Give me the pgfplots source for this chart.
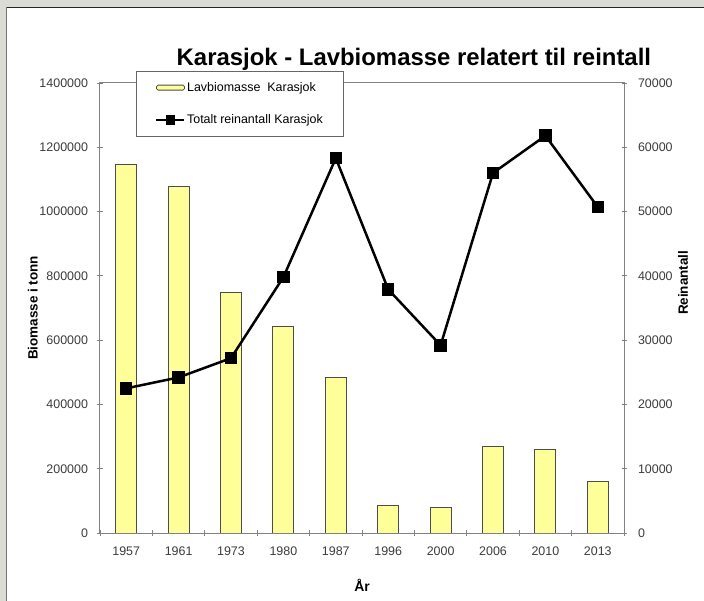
\documentclass[border=0pt]{standalone}
\usepackage{fontspec}
\setmainfont{Liberation Sans}
\usepackage{pgfplots}
\pgfplotsset{compat=1.18}
\definecolor{barcol}{RGB}{255,255,153}
\definecolor{bgcol}{RGB}{220,220,215}
\definecolor{axcol}{RGB}{130,130,130}
\definecolor{txtcol}{RGB}{60,60,60}
\begin{document}
\begin{tikzpicture}
\useasboundingbox (0bp,0bp) rectangle (704bp,601bp);
\fill[bgcol] (0bp,0bp) rectangle (704bp,601bp);
\fill[white] (7bp,0bp) rectangle (704bp,593bp);
\draw[black!85, line width=1bp] (6bp,593.5bp) -- (704bp,593.5bp);
\draw[black!55, line width=1.5bp] (6.5bp,0bp) -- (6.5bp,594bp);
\node[anchor=base west, font=\fontsize{24}{28}\selectfont\bfseries, inner sep=0pt] at (176.5bp,535bp) {Karasjok - Lavbiomasse relatert til reintall};
\begin{axis}[
  at={(100bp,68bp)}, anchor=south west,
  width=524bp, height=450bp, scale only axis,
  xmin=-0.5, xmax=9.5, ymin=0, ymax=1400000,
  axis line style={axcol, line width=1bp},
  xtick={0,...,9},
  xticklabels={1957,1961,1973,1980,1987,1996,2000,2006,2010,2013},
  minor xtick={-0.5,0.5,...,9.5},
  major x tick style={draw=none},
  minor x tick style={axcol, line width=0.8bp},
  minor tick length=5bp,
  ytick={0,200000,...,1400000},
  ytick style={axcol, line width=0.8bp},
  major tick length=5bp,
  tick align=center,
  xtick pos=bottom, ytick pos=left,
  scaled y ticks=false,
  /pgf/number format/assume math mode=true,
  yticklabel style={/pgf/number format/fixed, /pgf/number format/1000 sep={}, font=\fontsize{12.5}{15}\selectfont, text=txtcol, xshift=-6bp},
  xticklabel style={font=\fontsize{12.5}{15}\selectfont, text=txtcol, yshift=-8bp},
  ylabel={Biomasse i tonn},
  ylabel style={at={(axis description cs:-0.128,0.5)}, anchor=center, font=\fontsize{13.5}{16}\selectfont\bfseries},
  xlabel={År},
  xlabel style={at={(axis description cs:0.5,-0.116)}, anchor=center, font=\fontsize{14}{16}\selectfont\bfseries},
]
\addplot[ybar, bar width=21bp, fill=barcol, draw=black!70, line width=0.9bp]
  coordinates {(0,1147000) (1,1077000) (2,748000) (3,644000) (4,485000)
               (5,86000) (6,79000) (7,268000) (8,259000) (9,159000)};
\end{axis}
\begin{axis}[
  at={(100bp,68bp)}, anchor=south west,
  width=524bp, height=450bp, scale only axis,
  xmin=-0.5, xmax=9.5, ymin=0, ymax=70000,
  axis x line=none,
  axis y line*=right,
  axis line style={axcol, line width=1bp},
  ytick={0,10000,...,70000},
  ytick style={axcol, line width=0.8bp},
  major tick length=5bp,
  tick align=center,
  scaled y ticks=false,
  /pgf/number format/assume math mode=true,
  yticklabel style={/pgf/number format/fixed, /pgf/number format/1000 sep={}, font=\fontsize{12.5}{15}\selectfont, text=txtcol, xshift=8bp},
  ylabel={Reinantall},
  ylabel style={at={(axis description cs:1.1126,0.556)}, anchor=center, font=\fontsize{13.5}{16}\selectfont\bfseries},
  legend style={at={(0.0687,1.0267)}, anchor=north west, draw=black!60, line width=0.8bp, fill=white,
    font=\fontsize{12.5}{15}\selectfont, inner xsep=19bp, inner ysep=9bp, row sep=18bp,
    nodes={inner xsep=1.5bp, inner ysep=2bp}},
  legend cell align=left,
]
\addlegendimage{legend image code/.code={\draw[fill=barcol, draw=black!70, line width=0.8bp, rounded corners=1.5bp] (0bp,-2.5bp) rectangle (28bp,2.5bp);}}
\addlegendentry{Lavbiomasse\ \ Karasjok}
\addplot[black, line width=2.5bp, mark=square*, mark size=5bp,
  legend image code/.code={\draw[black, line width=2.2bp] (0bp,0bp) -- (28bp,0bp); \fill[black] (10.5bp,-3.5bp) rectangle (17.5bp,3.5bp);}]
  coordinates {(0,22500) (1,24200) (2,27200) (3,39800) (4,58300)
               (5,37900) (6,29200) (7,56000) (8,61800) (9,50700)};
\addlegendentry{Totalt reinantall Karasjok}
\end{axis}
\end{tikzpicture}
\end{document}
